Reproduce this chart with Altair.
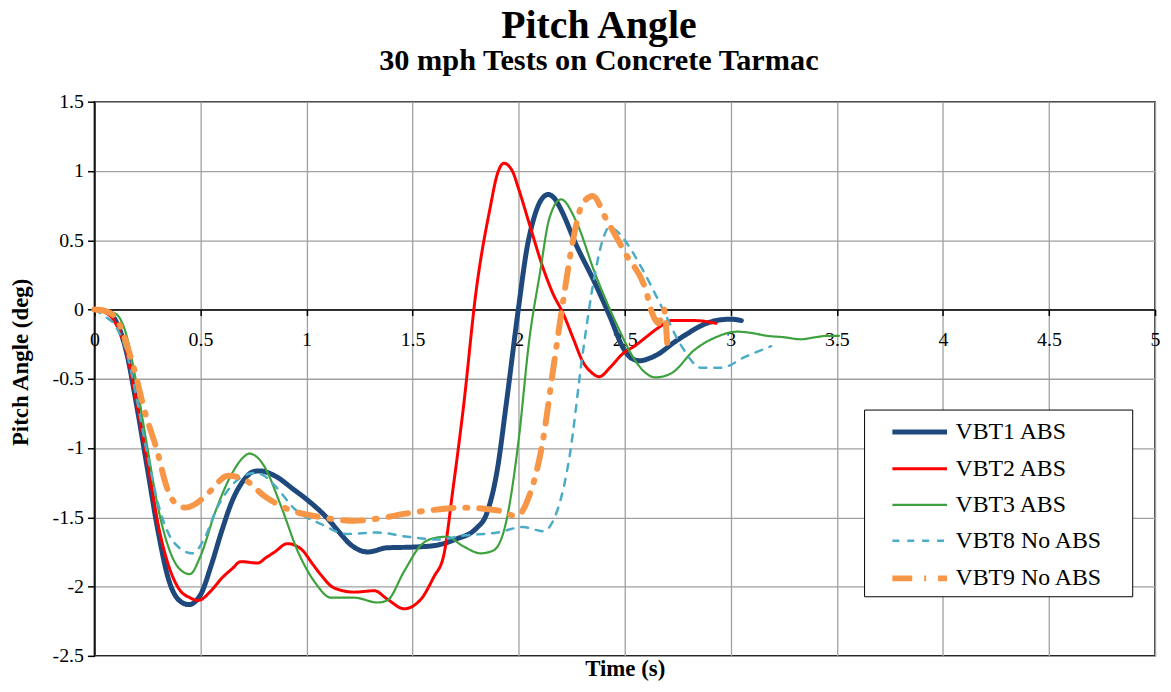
import altair as alt
import pandas as pd

series_names = ["VBT1 ABS", "VBT2 ABS", "VBT3 ABS", "VBT8 No ABS", "VBT9 No ABS"]

vbt1_t = [0, 0.05, 0.1, 0.15, 0.2, 0.25, 0.3, 0.35, 0.4, 0.445, 0.5, 0.55, 0.6, 0.65, 0.7, 0.75, 0.78,
          0.85, 0.94, 1.0, 1.1, 1.15, 1.21, 1.29, 1.38, 1.5, 1.6, 1.7, 1.8, 1.85, 1.9, 1.94, 2.0, 2.04,
          2.07, 2.11, 2.14, 2.17, 2.2, 2.27, 2.36, 2.43, 2.49, 2.53, 2.57, 2.62, 2.66, 2.73, 2.8, 2.87,
          2.93, 3.0, 3.05]
vbt1_a = [0, -0.01, -0.08, -0.3, -0.7, -1.15, -1.6, -1.95, -2.1, -2.13, -2.06, -1.85, -1.6, -1.38,
          -1.24, -1.17, -1.165, -1.2, -1.3, -1.37, -1.51, -1.6, -1.7, -1.75, -1.72, -1.715, -1.705,
          -1.66, -1.58, -1.47, -1.15, -0.7, 0.02, 0.45, 0.65, 0.8, 0.83, 0.8, 0.72, 0.47, 0.19, -0.05,
          -0.27, -0.35, -0.37, -0.35, -0.32, -0.24, -0.17, -0.11, -0.08, -0.07, -0.08]

vbt2_t = [0, 0.05, 0.1, 0.15, 0.2, 0.25, 0.3, 0.35, 0.4, 0.45, 0.49, 0.55, 0.6, 0.65, 0.69, 0.77, 0.81,
          0.85, 0.91, 0.975, 1.03, 1.07, 1.13, 1.225, 1.32, 1.38, 1.46, 1.54, 1.6, 1.646, 1.69, 1.74,
          1.8, 1.865, 1.9, 1.93, 1.97, 2.0, 2.05, 2.115, 2.16, 2.21, 2.26, 2.3, 2.34, 2.38, 2.43, 2.49,
          2.55, 2.6, 2.66, 2.72, 2.83, 2.93]
vbt2_a = [0, -0.02, -0.1, -0.3, -0.68, -1.1, -1.55, -1.85, -2.02, -2.08, -2.1, -2.03, -1.94, -1.87,
          -1.82, -1.83, -1.79, -1.75, -1.69, -1.73, -1.84, -1.92, -2.01, -2.04, -2.03, -2.09, -2.16,
          -2.09, -1.93, -1.78, -1.3, -0.7, 0.14, 0.73, 0.98, 1.056, 1.0, 0.87, 0.62, 0.3, 0.12, -0.03,
          -0.22, -0.37, -0.45, -0.485, -0.42, -0.32, -0.26, -0.2, -0.13, -0.08, -0.08, -0.1]

vbt3_t = [0, 0.05, 0.1, 0.15, 0.2, 0.25, 0.3, 0.35, 0.4, 0.45, 0.5, 0.57, 0.65, 0.7, 0.73, 0.77, 0.8,
          0.88, 0.96, 1.04, 1.115, 1.225, 1.335, 1.38, 1.46, 1.54, 1.58, 1.66, 1.74, 1.82, 1.88, 1.94,
          2.0, 2.05, 2.1, 2.145, 2.2, 2.27, 2.36, 2.46, 2.55, 2.6, 2.645, 2.72, 2.83, 2.93, 3.03, 3.1,
          3.17, 3.25, 3.33, 3.4, 3.455, 3.51]
vbt3_a = [0, -0.01, -0.03, -0.18, -0.55, -1.0, -1.43, -1.72, -1.87, -1.91, -1.78, -1.46, -1.18, -1.07,
          -1.04, -1.07, -1.13, -1.42, -1.75, -1.97, -2.08, -2.08, -2.115, -2.1, -1.89, -1.7, -1.66,
          -1.64, -1.71, -1.76, -1.74, -1.54, -0.94, -0.22, 0.26, 0.66, 0.795, 0.64, 0.26, -0.1, -0.37,
          -0.46, -0.49, -0.46, -0.29, -0.2, -0.16, -0.17, -0.19, -0.2, -0.215, -0.2, -0.19, -0.19]

vbt8_t = [0, 0.05, 0.1, 0.15, 0.2, 0.25, 0.3, 0.35, 0.4, 0.46, 0.52, 0.57, 0.66, 0.72, 0.757, 0.8, 0.85,
          0.944, 1.07, 1.19, 1.335, 1.475, 1.615, 1.75, 1.9, 2.02, 2.115, 2.18, 2.24, 2.3, 2.36, 2.4,
          2.425, 2.46, 2.49, 2.58, 2.675, 2.77, 2.86, 2.955, 3.07, 3.19]
vbt8_a = [0, -0.05, -0.12, -0.3, -0.65, -1.05, -1.4, -1.62, -1.72, -1.76, -1.65, -1.46, -1.25, -1.19,
          -1.18, -1.2, -1.27, -1.44, -1.55, -1.62, -1.61, -1.64, -1.66, -1.63, -1.61, -1.57, -1.6,
          -1.46, -1.06, -0.34, 0.26, 0.52, 0.59, 0.57, 0.52, 0.3, 0.016, -0.27, -0.42, -0.42, -0.34,
          -0.265]

vbt9_t = [0, 0.05, 0.1, 0.18, 0.24, 0.29, 0.35, 0.39, 0.43, 0.48, 0.54, 0.63, 0.71, 0.8, 0.91, 1.07,
          1.225, 1.335, 1.46, 1.58, 1.74, 1.9, 1.99, 2.05, 2.115, 2.16, 2.21, 2.255, 2.3, 2.35, 2.41,
          2.505, 2.6, 2.63, 2.66, 2.685, 2.7]
vbt9_a = [0, -0.01, -0.06, -0.39, -0.75, -0.99, -1.32, -1.41, -1.43, -1.4, -1.32, -1.2, -1.23, -1.345,
          -1.44, -1.5, -1.525, -1.51, -1.475, -1.45, -1.43, -1.45, -1.49, -1.345, -0.94, -0.46, 0.065,
          0.49, 0.76, 0.82, 0.66, 0.4, 0.136, -0.03, -0.1, 0.0, -0.24]

x_ticks = [0, 0.5, 1, 1.5, 2, 2.5, 3, 3.5, 4, 4.5, 5]
y_ticks = [-2.5, -2, -1.5, -1, -0.5, 0, 0.5, 1, 1.5]

colors = ["#1F497D", "#FF0000", "#3DA23D", "#4BACC6", "#F79646"]
dashes = [[1, 0], [1, 0], [1, 0], [7, 8], [20, 12, 2, 12]]
widths = [5, 3, 2.2, 2.5, 6]

rows = []
for name, ts, ys in zip(series_names,
                        [vbt1_t, vbt2_t, vbt3_t, vbt8_t, vbt9_t],
                        [vbt1_a, vbt2_a, vbt3_a, vbt8_a, vbt9_a]):
    for i, (t, a) in enumerate(zip(ts, ys)):
        rows.append({"series": name, "t": t, "angle": a, "order": i})
df = pd.DataFrame(rows)

FONT = "Liberation Serif"
W, H = 1068, 558
zero_offset = -H * 2.5 / 4.0

legend_kw = dict(title="\u00a0", titleOrient="right", titlePadding=24, titleFontSize=2,
                 orient="none", legendX=775, legendY=310,
                 symbolType="M-2,0H2", symbolSize=756, symbolOffset=33, labelOffset=19)

chart = alt.Chart(df).mark_line(
    interpolate="monotone", strokeCap="round", strokeJoin="round"
).encode(
    x=alt.X("t:Q", scale=alt.Scale(domain=[0, 5], nice=False, zero=False),
            axis=alt.Axis(values=x_ticks, labelExpr="'' + datum.value", offset=zero_offset,
                          grid=True, gridColor="#A0A0A0", gridWidth=1.3,
                          domainColor="black", domainWidth=1.5,
                          tickColor="black", tickSize=6, tickWidth=1.5,
                          labelFont=FONT, labelFontSize=20, labelColor="black", labelPadding=14,
                          labelFlush=False, labelOverlap=False, labelBound=False,
                          title="Time (s)", titleFont=FONT, titleFontSize=23, titleFontWeight="bold",
                          titleColor="black", titleBaseline="alphabetic", titleY=369)),
    y=alt.Y("angle:Q", scale=alt.Scale(domain=[-2.5, 1.5], nice=False, zero=False),
            axis=alt.Axis(values=y_ticks, labelExpr="'' + datum.value",
                          grid=True, gridColor="#A0A0A0", gridWidth=1.3,
                          domainColor="black", domainWidth=1.5,
                          tickColor="black", tickSize=7, tickWidth=1.5,
                          labelFont=FONT, labelFontSize=20, labelColor="black", labelPadding=4,
                          labelFlush=False, labelOverlap=False,
                          title="Pitch Angle (deg)", titleFont=FONT, titleFontSize=23,
                          titleFontWeight="bold", titleColor="black", titlePadding=20, titleY=262)),
    color=alt.Color("series:N", scale=alt.Scale(domain=series_names, range=colors),
                    legend=alt.Legend(**legend_kw)),
    strokeDash=alt.StrokeDash("series:N", scale=alt.Scale(domain=series_names, range=dashes),
                              legend=alt.Legend(**legend_kw)),
    strokeWidth=alt.StrokeWidth("series:N",
                                scale=alt.Scale(type="ordinal", domain=series_names, range=widths),
                                legend=alt.Legend(**legend_kw)),
    order="order:Q",
).properties(
    width=W, height=H,
    autosize=alt.AutoSizeParams(type="none"),
    padding={"left": 87, "top": 92, "right": 8, "bottom": 26},
    title=alt.TitleParams(text="Pitch Angle", subtitle="30 mph Tests on Concrete Tarmac",
                          font=FONT, fontSize=40, fontWeight="bold", color="black",
                          subtitleFont=FONT, subtitleFontSize=30.5, subtitleFontWeight="bold",
                          subtitleColor="black", anchor="middle", dx=-26, offset=15,
                          subtitlePadding=1),
).configure_view(
    stroke="black", strokeWidth=1.5
).configure_legend(
    strokeColor="black", fillColor="white", padding=6,
    labelFont=FONT, labelFontSize=24, labelColor="black", rowPadding=9
)

chart.save("out.html", embed_options={"renderer": "svg", "actions": False})
